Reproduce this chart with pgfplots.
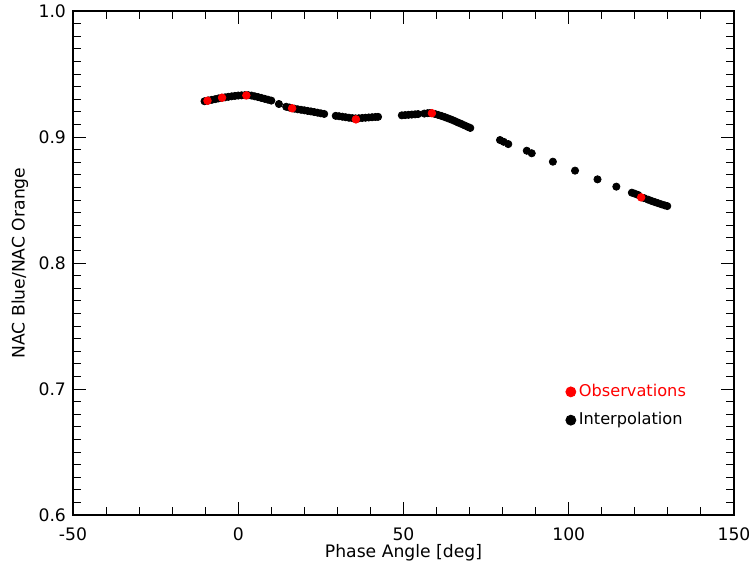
\documentclass[border=0pt]{standalone}
\usepackage{pgfplots}
\pgfplotsset{compat=1.18}
\usepackage{fontspec}
\setmainfont{DejaVu Sans}
\begin{document}
\begin{tikzpicture}
\begin{axis}[
  scale only axis,
  width=330.5pt, height=252pt,
  xmin=-50, xmax=150, ymin=0.6, ymax=1.0,
  xtick={-50,0,50,100,150},
  ytick={0.6,0.7,0.8,0.9,1.0},
  minor x tick num=4,
  minor y tick num=9,
  tick pos=both,
  tick align=inside,
  major tick length=6.5pt,
  minor tick length=4pt,
  tick style={black, line width=0.5pt},
  axis line style={line width=0.6pt},
  /pgf/number format/assume math mode=true,
  /pgf/number format/fixed,
  /pgf/number format/fixed zerofill,
  yticklabel style={/pgf/number format/precision=1},
  xticklabel={\pgfmathprintnumber[fixed,precision=0]{\tick}},
  xticklabel style={yshift=-3pt},
  ticklabel style={font=\fontsize{8.6}{10}\selectfont},
  label style={font=\fontsize{8.6}{10}\selectfont},
  xlabel={Phase Angle [deg]},
  ylabel={NAC Blue/NAC Orange},
  xlabel style={at={(axis description cs:0.5,0)}, anchor=center, yshift=-19pt},
  ylabel style={at={(axis description cs:-0.0802,0.5)}, anchor=center},
  reverse legend,
  legend image code/.code={\draw[#1, mark size=2.5pt] plot coordinates {(0pt,0pt)};},
  legend style={draw=none, fill=none, at={(axis cs:99,0.7065)}, anchor=north west,
    font=\fontsize{8.1}{9.6}\selectfont, inner sep=0pt, row sep=3.5pt,
    nodes={inner sep=1.5pt}},
  legend cell align=left,
]
\addplot[only marks, mark=*, mark size=1.8pt, black, mark options={draw=black, fill=black}] coordinates {
(-10.2,0.9284) (-9,0.9290) (-8,0.9295) (-7,0.9300) (-6,0.9306) (-5,0.9311)
(-4,0.9315) (-3,0.9319) (-2,0.9323) (-1,0.9326) (0,0.9329) (1,0.9331)
(2,0.9332) (3,0.9332) (4,0.9329) (5,0.9323) (6,0.9317) (7,0.9310)
(8,0.9303) (9,0.9296) (10,0.9289) (12.3,0.9262) (14.5,0.9240) (15.5,0.9234)
(17,0.9225) (18,0.9220) (19,0.9216) (20,0.9212) (21,0.9207) (22,0.9203)
(23,0.9198) (24,0.9193) (25,0.9188) (26,0.9183)
(29.5,0.9168) (30.5,0.9165) (31.5,0.9161) (32.5,0.9157) (33.5,0.9153) (34.5,0.9150)
(35.5,0.9148) (36.5,0.9149) (37.5,0.9151) (38.5,0.9153) (39.5,0.9155) (40.5,0.9157)
(41.5,0.9159) (42.3,0.9160)
(49.5,0.9172) (50.5,0.9174) (51.5,0.9176) (52.5,0.9178) (53.5,0.9180) (54.4,0.9182)
(56.3,0.9186) (57.3,0.9189) (58.0,0.9190)
(59.5,0.9183) (60.5,0.9175) (61.5,0.9167) (62.5,0.9158) (63.5,0.9148) (64.5,0.9138)
(65.5,0.9127) (66.5,0.9115) (67.5,0.9104) (68.5,0.9092) (69.5,0.9080) (70.2,0.9072)
(79.2,0.8976) (80.3,0.8962) (81.7,0.8944)
(87.3,0.8891) (88.8,0.8871)
(95.2,0.8804) (101.9,0.8733) (108.7,0.8664) (114.4,0.8606)
(119.1,0.8558) (120,0.8550) (121,0.8540) (122.8,0.8515) (124,0.8503) (125,0.8493)
(126,0.8484) (127,0.8475) (128,0.8466) (129,0.8458) (129.8,0.8452)
};
\addlegendentry{Interpolation}
\addplot[only marks, mark=*, mark size=1.9pt, red, mark options={draw=red, fill=red}] coordinates {
(-9.3,0.9288) (-4.9,0.9312) (2.45,0.9330) (16.3,0.9228) (35.6,0.9140) (58.6,0.9189) (121.9,0.8521)
};
\addlegendentry{\textcolor{red}{Observations}}
\end{axis}
\pgfresetboundingbox
\path (-36.5pt,-27pt) rectangle (338pt,257.5pt);
\end{tikzpicture}
\end{document}
